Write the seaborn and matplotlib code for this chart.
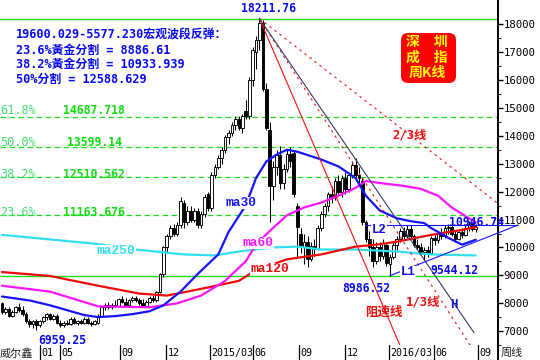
import numpy as np
import pandas as pd
import matplotlib
matplotlib.use("Agg")
import matplotlib.pyplot as plt
import seaborn as sns
from matplotlib.patches import FancyBboxPatch

sns.set_style("white")
plt.rcParams["font.family"] = ["DejaVu Sans Mono", "Noto Sans CJK SC"]
plt.rcParams["axes.unicode_minus"] = False

# ---------------- data (weekly candles, index = week) ----------------
opens = [8000, 7700, 7800, 7550, 7700, 7850, 7750, 7600, 7350, 7250,
         7350, 7200, 7350, 7500, 7600, 7450, 7550, 7300, 7200, 7300,
         7250, 7450, 7300, 7350, 7300, 7450, 7300, 7250, 7300, 7550,
         7850, 7950, 7850, 7950, 7900, 8150, 8050, 7950, 8100, 8200,
         8100, 8000, 7900, 8050, 8200, 8100, 8400, 9050, 10000, 10400,
         10700, 10500, 10800, 11600, 10900, 11300, 11000, 11300, 10800, 11200,
         11900, 11400, 12600, 12900, 13200, 13500, 13950, 14100, 14400, 14600,
         14300, 14900, 14700, 16000, 17000, 17450, 18050, 15700, 14200, 12200,
         12900, 13300, 12300, 12800, 13350, 13400, 11500, 10500, 10000, 10200,
         9600, 10050, 9950, 10700, 11200, 11500, 11900, 11800, 12400, 12000,
         12500, 12100, 12600, 12950, 12600, 12400, 10900, 10300, 10000, 9500,
         10000, 9700, 10100, 9400, 9650, 10100, 10300, 10600, 10400, 10650,
         10400, 10100, 10000, 9850, 9900, 9800, 10350, 10250, 10500, 10400,
         10700, 10750, 10500, 10300, 10550, 10450, 10700, 10850, 10650]
highs = [8050, 7850, 7850, 7750, 7900, 8000, 7900, 7700, 7450, 7400,
         7450, 7400, 7550, 7650, 7650, 7600, 7600, 7400, 7350, 7400,
         7500, 7500, 7400, 7450, 7500, 7500, 7350, 7400, 7600, 7900,
         8000, 8050, 8000, 8100, 8200, 8250, 8200, 8150, 8250, 8250,
         8200, 8150, 8100, 8250, 8300, 8450, 9100, 10050, 10500, 10800,
         10850, 10900, 11800, 11700, 11500, 11500, 11400, 11400, 11300, 11900,
         12000, 12700, 13000, 13300, 13600, 14050, 14200, 14500, 14700, 14700,
         14800, 15300, 16100, 17200, 17600, 18211.76, 18150, 15900, 14500, 13100,
         13500, 13650, 13000, 13500, 13600, 13500, 11600, 10700, 10500, 10400,
         10200, 10300, 10800, 11300, 11600, 12000, 12200, 12500, 12600, 12600,
         12700, 12700, 13100, 13200, 12900, 12500, 11000, 10600, 10300, 10200,
         10200, 10300, 10200, 9750, 10200, 10400, 10700, 10750, 10800, 10800,
         10500, 10300, 10150, 10000, 10050, 10400, 10450, 10600, 10700, 10800,
         10850, 10900, 10600, 10600, 10700, 10800, 10946.74, 10900, 10850]
lows = [7600, 7600, 7500, 7500, 7650, 7700, 7550, 7300, 7150, 7100,
        7050, 7150, 7300, 7400, 7400, 7400, 7250, 7150, 7150, 7200,
        7200, 7250, 7200, 7250, 7250, 7250, 7180, 7200, 7250, 7500,
        7750, 7800, 7800, 7850, 7850, 8000, 7950, 7900, 8050, 8050,
        7950, 7850, 7850, 8000, 8050, 8050, 8350, 8950, 9800, 10300,
        10400, 10400, 10700, 10700, 10800, 10900, 10900, 10700, 10700, 11100,
        11300, 11300, 12500, 12800, 13000, 13400, 13700, 14000, 14200, 14200,
        14100, 14600, 14600, 15800, 16400, 17100, 15600, 14200, 10900, 11700,
        12600, 12100, 12100, 12700, 12900, 11800, 9650, 9800, 9400, 9300,
        9500, 9700, 9900, 10600, 11100, 11300, 11600, 11700, 11900, 11800,
        11900, 12000, 12500, 12500, 12200, 10800, 10200, 9700, 9300, 9400,
        9500, 9600, 9350, 8986.52, 9600, 9900, 10200, 10300, 10350, 10300,
        10000, 9900, 9750, 9544.12, 9650, 9750, 10100, 10150, 10300, 10350,
        10500, 10400, 10200, 10250, 10350, 10400, 10600, 10600, 10550]
closes = [7700, 7800, 7550, 7700, 7850, 7750, 7600, 7350, 7250, 7350,
          7200, 7350, 7500, 7600, 7450, 7550, 7300, 7200, 7300, 7250,
          7450, 7300, 7350, 7300, 7450, 7300, 7250, 7350, 7550, 7850,
          7950, 7850, 7950, 7900, 8150, 8050, 7950, 8100, 8200, 8100,
          8000, 7900, 8050, 8200, 8100, 8400, 9050, 10000, 10400, 10700,
          10500, 10800, 11650, 10900, 11300, 11000, 11300, 10800, 11200, 11800,
          11400, 12600, 12900, 13200, 13500, 13950, 14100, 14400, 14600, 14300,
          14700, 14700, 16000, 17100, 17450, 18050, 15700, 14300, 12200, 12900,
          13300, 12300, 12800, 13350, 13100, 11900, 10750, 10000, 10200, 9600,
          10050, 9950, 10700, 11200, 11500, 11900, 11800, 12400, 12000, 12500,
          12100, 12600, 12950, 12600, 12500, 10900, 10300, 10000, 9500, 10000,
          9700, 10150, 9450, 9650, 10100, 10300, 10600, 10400, 10650, 10400,
          10100, 10000, 9850, 9900, 9800, 10350, 10250, 10500, 10400, 10700,
          10750, 10500, 10300, 10550, 10450, 10700, 10850, 10650, 10750]

# moving averages (week, value)
ma30_weeks = [0, 8, 14, 19, 24, 28, 33, 38, 43, 47, 52, 57, 63, 66, 71, 74, 77, 80,
              83, 86, 93, 98, 103, 106, 110, 115, 119, 123, 125, 130, 134, 138]
ma30_vals = [8239, 8099, 7923, 7748, 7572, 7502, 7537, 7607, 7712, 7923, 8415, 9047,
             9749, 10557, 11505, 12488, 13085, 13330, 13506, 13436, 13155, 12909,
             12488, 11856, 11329, 11048, 10943, 10873, 10697, 10346, 10100, 10276]
ma60_weeks = [0, 14, 28, 43, 51, 58, 65, 71, 74, 78, 83, 88, 93, 98, 103, 106, 110,
              117, 122, 127, 131, 136, 138]
ma60_vals = [8626, 8415, 7888, 7853, 7994, 8274, 8801, 9503, 10100, 10592, 11154,
             11435, 11610, 11856, 12137, 12382, 12312, 12207, 12102, 11856, 11435,
             11048, 10900]
ma120_weeks = [0, 14, 28, 40, 48, 54, 61, 69, 74, 83, 93, 103, 109, 115, 125, 134, 138]
ma120_vals = [9117, 8977, 8626, 8345, 8274, 8415, 8591, 8801, 9187, 9574, 9749,
              10030, 10100, 10206, 10451, 10627, 10732]
ma250_weeks = [0, 9, 27, 39, 53, 62, 69, 78, 86, 93, 103, 115, 125, 138]
ma250_vals = [10451, 10346, 10135, 9925, 9749, 9714, 9854, 9995, 10030, 9925, 9925,
              9854, 9749, 9714]

# golden-section levels
fib_low, fib_high = 8986.52, 18211.76
fib_ratios = [0.236, 0.382, 0.5, 0.618]
fib_pct_labels = ["23.6%", "38.2%", "50.0%", "61.8%"]
fib_val_labels = ["11163.676", "12510.562", "13599.14", "14687.718"]

# trend lines
peak_week, peak_val = 75, 18211.76
speed_anchor_week = 107.2
speed_fracs = [1.0, 2 / 3, 1 / 3]
h_weeks, h_vals = [75, 137.5], [18211.76, 6940]
l1_weeks, l1_vals = [113, 150.3], [8986.52, 10803]
l2_weeks, l2_vals = [105.7, 150.3], [10803, 10803]

tick_weeks = [11.1, 16.9, 34.4, 47.8, 60.6, 73.1, 86.5, 99.9, 112.7, 125.8, 138.7]
tick_labels = ["01", "05", "09", "12", "2015/03", "06", "09", "12", "2016/03", "06", "09"]
y_ticks = list(range(7000, 18001, 1000))

# ---------------- figure ----------------
W, H = 540, 360
fig = plt.figure(figsize=(5.4, 3.6), dpi=100)
fig.patch.set_facecolor("white")
ax = fig.add_axes([0, 15 / H, 498 / W, 345 / H])
ax.set_facecolor("white")
ax.set_xlim(-0.58, 144.48)
ax.set_ylim(6765, 18878)


def F(x, y):
    return (x / W, 1 - y / H)


df = pd.DataFrame({"week": np.arange(len(closes)), "open": opens, "high": highs,
                   "low": lows, "close": closes})
up = df["close"] >= df["open"]

# fib lines
green = "#19E019"
for r in fib_ratios:
    lvl = fib_low + r * (fib_high - fib_low)
    ax.axhline(lvl, color=green, lw=0.9, dashes=(4.5, 2.7), zorder=1)
ax.axhline(fib_high, color=green, lw=1.0, zorder=1)
ax.axhline(fib_low, color=green, lw=1.0, zorder=1)

# candles
ax.vlines(df["week"], df["low"], df["high"], color="black", lw=0.75, zorder=2)
body_bottom = np.minimum(df["open"], df["close"])
body_h = np.maximum(np.abs(df["close"] - df["open"]), 20)
ax.bar(df["week"], body_h, bottom=body_bottom, width=0.78,
       color=np.where(up, "white", "black"), edgecolor="black", linewidth=0.65, zorder=3)

# moving averages
ma_long = pd.concat([
    pd.DataFrame({"week": ma250_weeks, "value": ma250_vals, "line": "ma250"}),
    pd.DataFrame({"week": ma120_weeks, "value": ma120_vals, "line": "ma120"}),
    pd.DataFrame({"week": ma60_weeks, "value": ma60_vals, "line": "ma60"}),
    pd.DataFrame({"week": ma30_weeks, "value": ma30_vals, "line": "ma30"}),
])
palette = {"ma30": "#1414FF", "ma60": "#FF14FF", "ma120": "#EE0A0A", "ma250": "#30E0EE"}
sns.lineplot(data=ma_long, x="week", y="value", hue="line", palette=palette,
             estimator=None, legend=False, linewidth=1.6, ax=ax, zorder=4)

# speed resistance lines from the peak
drop = fib_high - fib_low
end_w = 150
for frac, style in zip(speed_fracs, ["solid", "dash", "dash"]):
    slope = frac * drop / (speed_anchor_week - peak_week)
    yv = peak_val - slope * (end_w - peak_week)
    if style == "solid":
        ax.plot([peak_week, end_w], [peak_val, yv], color="#F01010", lw=0.8, zorder=5)
    else:
        ax.plot([peak_week, end_w], [peak_val, yv], color="#F01010", lw=0.8,
                dashes=(2.2, 3.5), zorder=5)
ax.plot(h_weeks, h_vals, color="#3A3A6A", lw=0.8, zorder=5)
ax.plot(l1_weeks, l1_vals, color="#1414FF", lw=0.8, zorder=5, clip_on=False)
ax.plot(l2_weeks, l2_vals, color="#1414FF", lw=0.8, zorder=5, clip_on=False)

# axes styling
for s in ["top", "left", "bottom"]:
    ax.spines[s].set_visible(False)
ax.spines["right"].set_color("black")
ax.spines["right"].set_linewidth(1.4)
ax.plot([1, 1], [0, -15 / 345], transform=ax.transAxes, color="black", lw=1.4, clip_on=False)
ax.yaxis.tick_right()
ax.set_yticks(y_ticks)
ax.set_yticklabels([str(v) for v in y_ticks])
ax.set_yticks([v + 500 for v in y_ticks[:-1]] + [6500], minor=True)
ax.tick_params(axis="y", which="major", direction="out", length=3.6, width=1.0,
               pad=0.5, labelsize=7.7, colors="black", right=True)
ax.tick_params(axis="y", which="minor", direction="out", length=2, width=0.8, right=True)
ax.set_xticks([])
ax.set_xlabel("")
ax.set_ylabel("")
xt = ax.get_xaxis_transform()
for t, lab in zip(tick_weeks, tick_labels):
    ax.plot([t, t], [0, -15 / 345], transform=xt, color="black", lw=0.9, clip_on=False)
    ax.text(t + 0.4, -8 / 345, lab, transform=xt, ha="left", va="center",
            fontsize=7.2, color="black", clip_on=False)

fig.text(*F(0, 353), "威尔鑫", fontsize=8, color="#222222", ha="left", va="center",
         family=["Noto Sans CJK SC"],
         bbox=dict(facecolor="white", edgecolor="none", pad=0.6))
fig.text(*F(501, 353), "周线", fontsize=8, color="#222222", ha="left", va="center",
         family=["Noto Sans CJK SC"])

# fib labels
pct_y = [212, 174, 143, 111]
for py, pl, vl in zip(pct_y, fib_pct_labels, fib_val_labels):
    fig.text(*F(0, py), pl, fontsize=8.6, color="#40E070", ha="left", va="center")
    fig.text(*F(94, py), vl, fontsize=8.3, color="#10DD10", ha="center", va="center",
             fontweight="bold")

# top-left info block
blue = "#0A0AF0"
info = ["19600.029-5577.230宏观波段反弹：",
        "23.6%黃金分割 = 8886.61",
        "38.2%黃金分割 = 10933.939",
        "50%分割 = 12588.629"]
for yy, line in zip([35, 50, 64, 79], info):
    fig.text(*F(16, yy), line, fontsize=8.6, color=blue, ha="left", va="center",
             fontweight="bold")

# value annotations
fig.text(*F(269, 9), "18211.76", fontsize=8.3, color=blue, ha="center", va="center", fontweight="bold")
fig.text(*F(62, 340), "6959.25", fontsize=8.3, color=blue, ha="center", va="center", fontweight="bold")
fig.text(*F(366, 288), "8986.52", fontsize=8.3, color=blue, ha="center", va="center", fontweight="bold")
fig.text(*F(454, 271), "9544.12", fontsize=8.3, color=blue, ha="center", va="center", fontweight="bold")
fig.text(*F(476, 222), "10946.74", fontsize=8.3, color=blue, ha="center", va="center", fontweight="bold")
fig.text(*F(379, 230), "L2", fontsize=8.8, color=blue, ha="center", va="center", fontweight="bold",
         family=["Liberation Mono"], bbox=dict(facecolor="white", edgecolor="none", pad=0.3))
fig.text(*F(408, 272), "L1", fontsize=8.8, color=blue, ha="center", va="center", fontweight="bold",
         family=["Liberation Mono"], bbox=dict(facecolor="white", edgecolor="none", pad=0.3))
fig.text(*F(454, 305), "H", fontsize=8.8, color="#1414C8", ha="center", va="center", fontweight="bold",
         family=["Liberation Mono"])

# MA labels
ma_lab = [("ma30", 241, 203, palette["ma30"]), ("ma60", 258, 243, palette["ma60"]),
          ("ma120", 270, 269, palette["ma120"]), ("ma250", 116, 251, palette["ma250"])]
for lab, x, y, c in ma_lab:
    fig.text(*F(x, y), lab, fontsize=9.3, color=c, ha="center", va="center", fontweight="bold",
             family=["Liberation Mono"], bbox=dict(facecolor="white", edgecolor="none", pad=0.2))

# speed-line labels
red = "#F01010"
fig.text(*F(410, 135), "2/3线", fontsize=8.8, color=red, ha="center", va="center", fontweight="bold")
fig.text(*F(423, 302), "1/3线", fontsize=8.8, color=red, ha="center", va="center", fontweight="bold")
fig.text(*F(384, 312), "阻速线", fontsize=9, color=red, ha="center", va="center", fontweight="bold",
         family=["Noto Sans CJK SC"])

# red title box
box = FancyBboxPatch((4.03, 3.6 - 0.81), 0.51, 0.46,
                     boxstyle="round,pad=0.02,rounding_size=0.07",
                     transform=fig.dpi_scale_trans, facecolor="#FF0000", edgecolor="none",
                     zorder=10)
fig.patches.append(box)
for yy, line in zip([42, 58, 73], ["深　圳", "成　指", "周K线"]):
    fig.text(*F(427, yy), line, fontsize=10, color="#FFFF00", ha="center", va="center",
             fontweight="bold", family=["Noto Sans CJK SC"], zorder=11)

fig.savefig("out.png", dpi=100, facecolor="white")
